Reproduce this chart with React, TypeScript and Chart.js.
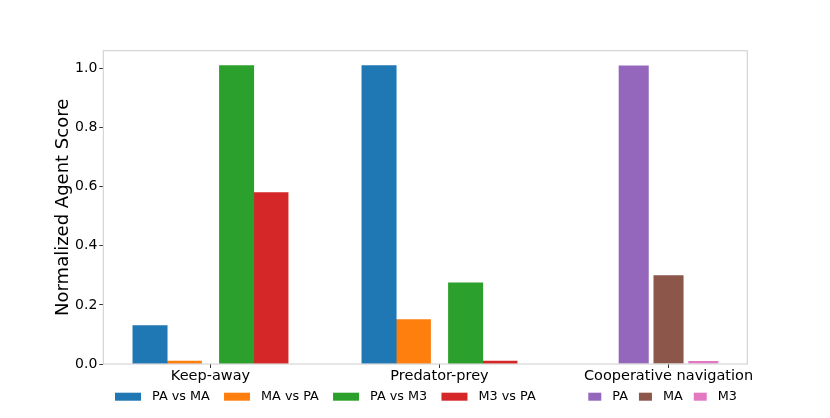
import React, { useEffect, useRef } from "react";
import Chart from "chart.js/auto";

// group names shown under the x axis
const groups = ["Keep-away", "Predator-prey", "Cooperative navigation"];
const yTicks = [0, 0.2, 0.4, 0.6, 0.8, 1.0];

// Keep-away and Predator-prey scores
const paVsMa = [0.13, 1.01];
const maVsPa = [0.01, 0.15];
const paVsM3 = [1.01, 0.275];
const m3VsPa = [0.58, 0.01];

// Cooperative navigation scores
const coopPA = [1.01];
const coopMA = [0.3];
const coopM3 = [0.01];

const FONT = "'DejaVu Sans', sans-serif";
const SPINE = "#cccccc";

type Series = {
  label: string;
  values: number[];
  first: number; // index of first group the values belong to
  offset: number;
  color: string;
  width: number;
};

const series: Series[] = [
  { label: "PA vs MA", values: paVsMa, first: 0, offset: -0.264, color: "#1f77b4", width: 1 },
  { label: "MA vs PA", values: maVsPa, first: 0, offset: -0.114, color: "#ff7f0e", width: 1 },
  { label: "PA vs M3", values: paVsM3, first: 0, offset: 0.114, color: "#2ca02c", width: 1 },
  { label: "M3 vs PA", values: m3VsPa, first: 0, offset: 0.264, color: "#d62728", width: 1 },
  { label: "PA", values: coopPA, first: 2, offset: -0.152, color: "#9467bd", width: 0.875 },
  { label: "MA", values: coopMA, first: 2, offset: 0, color: "#8c564b", width: 0.875 },
  { label: "M3", values: coopM3, first: 2, offset: 0.152, color: "#e377c2", width: 0.875 },
];

// two separate legends, as in the original figure
const legendRows = [
  { x: 115, box: 26, gap: 14.2, items: [0, 1, 2, 3] },
  { x: 588.3, box: 13, gap: 11, items: [4, 5, 6] },
];

const frame = {
  id: "frame",
  afterDatasetsDraw(chart: any) {
    const { ctx, chartArea: a } = chart;
    ctx.save();
    ctx.strokeStyle = SPINE;
    ctx.lineWidth = 1;
    ctx.strokeRect(a.left, a.top, a.right - a.left, a.bottom - a.top);
    ctx.restore();
  },
};

const splitLegend = {
  id: "splitLegend",
  afterDraw(chart: any) {
    const ctx = chart.ctx;
    const yMid = 396.7;
    ctx.save();
    ctx.font = `12.8px ${FONT}`;
    ctx.textBaseline = "middle";
    ctx.textAlign = "left";
    legendRows.forEach((row) => {
      let x = row.x;
      row.items.forEach((i) => {
        const ds = chart.data.datasets[i];
        ctx.fillStyle = ds.backgroundColor;
        ctx.fillRect(x, yMid - 4, row.box, 8);
        x += row.box + 11;
        ctx.fillStyle = "#000";
        ctx.fillText(ds.label, x, yMid);
        x += ctx.measureText(ds.label).width + row.gap;
      });
    });
    ctx.restore();
  },
};

const App: React.FC = () => {
  const canvasRef = useRef<HTMLCanvasElement>(null);

  useEffect(() => {
    if (!canvasRef.current) return;
    const ctx = canvasRef.current.getContext("2d");
    if (!ctx) return;

    const chart = new Chart(ctx, {
      type: "bar",
      data: {
        datasets: series.map((s) => ({
          label: s.label,
          data: s.values.map((v, i) => ({ x: s.first + i + s.offset, y: v })),
          backgroundColor: s.color,
          borderWidth: 0,
          grouped: false,
          barPercentage: s.width,
          categoryPercentage: 1,
        })),
      },
      options: {
        animation: false,
        responsive: false,
        layout: { padding: { top: 50.7, right: 82.7, left: 0, bottom: 0 } },
        plugins: {
          legend: { display: false },
          tooltip: { enabled: false },
        },
        scales: {
          x: {
            type: "linear",
            min: -0.468,
            max: 2.344,
            offset: false,
            afterBuildTicks: (scale: any) => {
              scale.ticks = groups.map((_, i) => ({ value: i }));
            },
            afterFit: (scale: any) => {
              scale.height = 54;
            },
            grid: {
              offset: false,
              drawOnChartArea: false,
              drawTicks: true,
              tickLength: 4,
              tickColor: "#333",
            },
            border: { display: false },
            ticks: {
              autoSkip: false,
              maxRotation: 0,
              padding: 0,
              color: "#000",
              font: { family: FONT, size: 14.5 },
              callback: (v: any) => groups[Math.round(Number(v))] ?? "",
            },
          },
          y: {
            min: 0,
            max: 1.0605,
            afterBuildTicks: (scale: any) => {
              scale.ticks = yTicks.map((v) => ({ value: v }));
            },
            afterFit: (scale: any) => {
              scale.width = 103.3;
            },
            grid: {
              drawOnChartArea: false,
              drawTicks: true,
              tickLength: 4,
              tickColor: "#333",
            },
            border: { display: false },
            ticks: {
              padding: 2,
              color: "#000",
              font: { family: FONT, size: 14 },
              callback: (v: any) => Number(v).toFixed(1),
            },
            title: {
              display: true,
              text: "Normalized Agent Score",
              color: "#000",
              font: { family: FONT, size: 18 },
              padding: { top: 53, bottom: 0 },
            },
          },
        },
      },
      plugins: [frame, splitLegend],
    });

    return () => {
      chart.destroy();
    };
  }, []);

  return (
    <div style={{ position: "absolute", left: 0, top: 0, width: 830, height: 418 }}>
      <canvas ref={canvasRef} width={830} height={418} />
    </div>
  );
};

export default App;
